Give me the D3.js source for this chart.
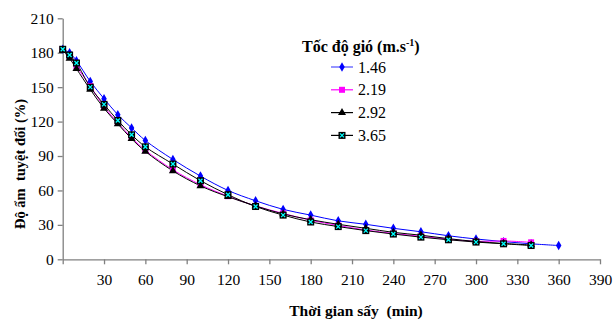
<!DOCTYPE html>
<html>
<head>
<meta charset="utf-8">
<script src="https://cdn.jsdelivr.net/npm/d3@7"></script>
<style>
  body { margin: 0; background: #fff; }
  svg text { font-family: "Liberation Serif", "Times New Roman", serif; white-space: pre; }
</style>
</head>
<body>
<svg id="chart" width="613" height="320"></svg>
<script>
// drying time (min)
const times = [0, 5, 10, 20, 30, 40, 50, 60, 80, 100, 120, 140, 160, 180, 200, 220, 240, 260, 280, 300, 320, 340, 360];
const seriesNames = ['1.46', '2.19', '2.92', '3.65'];
const v146 = [183, 180, 173, 155, 140, 126, 114.5, 103.5, 87, 72.5, 60, 51, 43.5, 38.5, 33.5, 30.5, 27, 24, 20.5, 17.7, 15.4, 13.5, 12];
const v219 = [183, 177, 168, 151, 133, 119, 106, 95, 78, 65, 55, 46.5, 40, 34, 29.5, 25.5, 22.5, 20, 17.5, 15.6, 16, 14.8];
const v292 = [182, 175, 166, 148, 131.5, 118, 105, 94, 77, 64, 54.5, 46.5, 39.5, 34.5, 30.5, 27, 23.5, 21, 18, 15.5, 13.8, 12.5];
const v365 = [183, 178, 171, 150, 135, 121, 108.5, 98, 83, 68.5, 56.3, 46, 38.5, 32.5, 28.5, 25, 22, 19.3, 17, 15, 13.5, 12];
const xTicks = [0, 30, 60, 90, 120, 150, 180, 210, 240, 270, 300, 330, 360, 390];
const yTicks = [0, 30, 60, 90, 120, 150, 180, 210];

const series = [
  { name: seriesNames[0], values: v146, color: '#0000ff', marker: 'diamond' },
  { name: seriesNames[1], values: v219, color: '#ff00ff', marker: 'square' },
  { name: seriesNames[2], values: v292, color: '#000000', marker: 'triangle' },
  { name: seriesNames[3], values: v365, color: '#000000', marker: 'xsquare' }
];

const svg = d3.select('#chart');
const x = d3.scaleLinear().domain([0, 390]).range([62.7, 600]);
const y = d3.scaleLinear().domain([0, 210]).range([259.3, 18.3]);

// axes
const xAxis = svg.append('g')
  .attr('transform', `translate(0,${y(0)})`)
  .call(d3.axisBottom(x).tickValues(xTicks).tickSize(5).tickSizeOuter(0)
    .tickFormat(d => (d === 0 ? '' : d)));
const yAxis = svg.append('g')
  .attr('transform', `translate(${x(0)},0)`)
  .call(d3.axisLeft(y).tickValues(yTicks).tickSize(5).tickSizeOuter(0));

[xAxis, yAxis].forEach(g => {
  g.selectAll('path, line').attr('stroke', '#808080').attr('stroke-width', 1.3);
  g.selectAll('text').attr('fill', '#000').style('font-size', '15.5px')
    .style('font-family', '"Liberation Serif", serif');
});
xAxis.selectAll('text').attr('dy', '1.1em').attr('y', 9);
yAxis.selectAll('text').attr('x', -9);

// lines
const line = d3.line()
  .x((d, i) => x(times[i]))
  .y(d => y(d))
  .curve(d3.curveCatmullRom.alpha(0.5));

function drawMarker(g, type, color) {
  if (type === 'diamond') {
    g.append('path').attr('d', d3.symbol(d3.symbolDiamond, 26)()).attr('fill', color);
  } else if (type === 'square') {
    g.append('rect').attr('x', -3).attr('y', -3).attr('width', 6).attr('height', 6).attr('fill', color);
  } else if (type === 'triangle') {
    g.append('path').attr('d', d3.symbol(d3.symbolTriangle, 28)()).attr('fill', color);
  } else {
    g.append('rect').attr('x', -3.5).attr('y', -3.5).attr('width', 7).attr('height', 7).attr('fill', '#000');
    g.append('path').attr('d', 'M-2,-2L2,2M2,-2L-2,2').attr('stroke', '#00ffff').attr('stroke-width', 1.3);
  }
}

const plot = svg.append('g');
series.forEach(s => {
  plot.append('path')
    .datum(s.values)
    .attr('fill', 'none')
    .attr('stroke', s.color)
    .attr('stroke-width', 1)
    .attr('d', line);
});
series.forEach(s => {
  s.values.forEach((v, i) => {
    const g = plot.append('g').attr('transform', `translate(${x(times[i])},${y(v)})`);
    drawMarker(g, s.marker, s.color);
  });
});

// legend
const legend = svg.append('g');
const title = legend.append('text')
  .attr('x', 302).attr('y', 52)
  .style('font-size', '16px').style('font-weight', 'bold');
title.append('tspan').text('Tốc độ gió (m.s');
title.append('tspan').attr('dy', -6).style('font-size', '10px').text('-1');
title.append('tspan').attr('dy', 6).text(')');

series.forEach((s, i) => {
  const ly = 67 + i * 22.8;
  legend.append('line')
    .attr('x1', 331).attr('x2', 353).attr('y1', ly).attr('y2', ly)
    .attr('stroke', s.color === '#0000ff' ? '#4d4dff' : s.color).attr('stroke-width', 1.2);
  drawMarker(legend.append('g').attr('transform', `translate(342,${ly})`), s.marker, s.color);
  legend.append('text')
    .attr('x', 358).attr('y', ly + 5.5)
    .style('font-size', '16px')
    .text(s.name);
});

// axis titles
svg.append('text')
  .attr('x', 356).attr('y', 316)
  .attr('text-anchor', 'middle')
  .style('font-size', '15.5px').style('font-weight', 'bold')
  .text('Thời gian sấy  (min)');

svg.append('text')
  .attr('transform', 'translate(25,164) rotate(-90)')
  .attr('text-anchor', 'middle')
  .style('font-size', '14.5px').style('font-weight', 'bold')
  .text('Độ ẩm  tuyệt đối (%)');
</script>
</body>
</html>
